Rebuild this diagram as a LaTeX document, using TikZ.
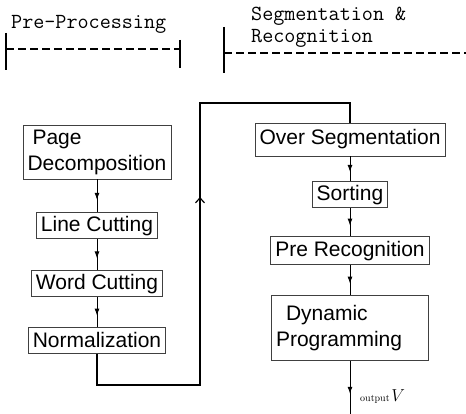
\documentclass[tikz,border=0pt]{standalone}
\usepackage{fontspec}
\usetikzlibrary{positioning,arrows.meta,decorations.markings}
\newfontfamily\boxfont{Liberation Sans}

\tikzset{
  stage/.style={draw=black!75, line width=0.8pt, rectangle,
    font=\boxfont\fontsize{21}{26}\selectfont,
    inner xsep=4.5pt, inner ysep=3pt, minimum height=26pt},
  flow/.style={line width=0.9pt, postaction={decorate},
    decoration={markings, mark=at position 0.62 with {\arrow{Latex[length=7pt,width=5pt]}}}},
  feedback/.style={line width=1.6pt, postaction={decorate},
    decoration={markings, mark=at position 0.55 with {\arrow{Straight Barb[length=5pt,width=9pt,line width=1.2pt]}}}},
  phase/.style={font=\ttfamily\fontsize{21.5}{22.5}\selectfont, inner sep=0pt, align=left},
  bracketline/.style={line width=1.3pt},
}

\begin{document}
\begin{tikzpicture}[x=1pt, y=-1pt, node distance=30pt]
  \useasboundingbox (0,0) rectangle (466,414);

  % phase headings
  \node[phase, anchor=base west] (prehead) at (11,29) {Pre-Processing};
  \node[phase, anchor=base west] (seghead) at (251,43) {Segmentation \&\\Recognition};

  \draw[bracketline] (6,33) -- (6,70);
  \draw[bracketline, dash pattern=on 8pt off 4pt] (6,49) -- (180,49);
  \draw[bracketline] (180,40) -- (180,68);
  \draw[bracketline] (224,27) -- (224,73);
  \draw[bracketline, dash pattern=on 8pt off 4pt] (224,53) -- (466,53);

  % pre-processing column
  \node[stage, align=left, minimum height=54pt] (page) at (97,152) {\hspace*{5pt}Page\\Decomposition};
  \node[stage, below=33pt of page] (line) {Line Cutting};
  \node[stage, below=31pt of line] (word) {Word Cutting};
  \node[stage, below=30pt of word] (norm) {Normalization};

  % segmentation column
  \node[stage, minimum height=33pt] (over) at (350,139.5) {Over Segmentation};
  \node[stage, below=25pt of over] (sort) {Sorting};
  \node[stage, below=28pt of sort, minimum height=28pt] (prerec) {Pre Recognition};
  \node[stage, below=30pt of prerec, text width=148pt, align=left, minimum height=65pt] (dp) {\hspace*{10pt}Dynamic\\Programming};

  \coordinate (low) at (200,385);
  \coordinate (high) at (200,103);
  \coordinate (out) at (350,414);

  \draw[flow] (page.south) -- (line.north);
  \draw[flow] (line.south) -- (word.north);
  \draw[flow] (word.south) -- (norm.north);
  \draw[feedback] (norm.south) |- (low) -- (high) -| (over.north);
  \draw[flow] (over.south) -- (sort.north);
  \draw[flow] (sort.south) -- (prerec.north);
  \draw[flow] (prerec.south) -- (dp.north);
  \draw[flow] (dp.south) -- (out);

  \node[anchor=base west, inner sep=0pt] (outlabel) at (360,401) {{\fontsize{10}{12}\selectfont output}\,{\fontsize{19}{22}\selectfont$V$}};
\end{tikzpicture}
\end{document}
